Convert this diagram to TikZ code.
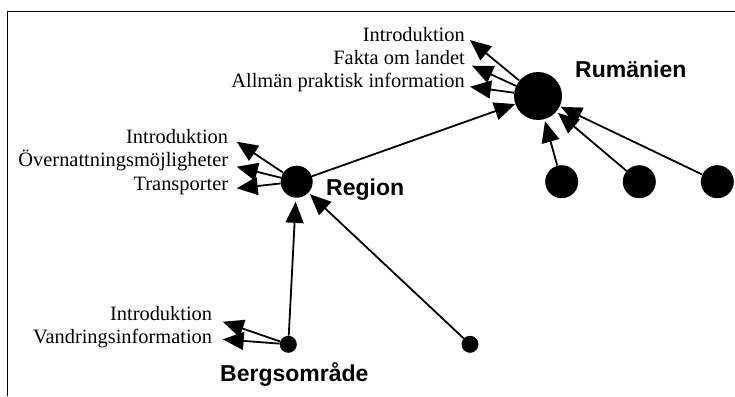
\documentclass[tikz,border=0pt]{standalone}
\usepackage{fontspec}
\setmainfont{Liberation Serif}
\newfontfamily\labfont{Liberation Sans}
\usetikzlibrary{arrows.meta}
\tikzset{
  dot/.style={circle, fill=black, draw=none, inner sep=0pt},
  item/.style={anchor=base east, inner sep=0pt, font=\fontsize{20.4}{24}\selectfont},
  title/.style={anchor=base west, inner sep=0pt, font=\labfont\bfseries\fontsize{23}{27}\selectfont},
  conn/.style={line width=1.8pt, -{Triangle[length=21pt,width=18pt]}},
}
\begin{document}
\begin{tikzpicture}[x=1pt,y=1pt]
\useasboundingbox (0,0) rectangle (735,-396);
% frame
\draw[line width=1.6pt] (7.3,-396) -- (7.3,-11.5) -- (735,-11.5);

% circles
\node[dot, minimum size=48pt] (rum) at (538,-96) {};
\node[dot, minimum size=32pt] (reg) at (296.7,-181.7) {};
\node[dot, minimum size=17pt] (berg) at (288.3,-344.3) {};
\node[dot, minimum size=17pt] (m2) at (470,-344.3) {};
\node[dot, minimum size=33pt] (b1) at (561.7,-181.7) {};
\node[dot, minimum size=33pt] (b2) at (639.3,-181.7) {};
\node[dot, minimum size=33pt] (b3) at (717.3,-181.7) {};

% titles
\node[title] (rumlab) at (575,-77.3) {Rumänien};
\node[title] (reglab) at (326,-195) {Region};
\node[title] (berglab) at (220,-381.7) {Bergsområde};

% Rumänien items
\node[item] (ri1) at (465,-41.7) {Introduktion};
\node[item] (ri2) at (465,-64.3) {Fakta om landet};
\node[item] (ri3) at (465,-87.7) {Allmän praktisk information};
\coordinate (rt1) at (470,-40);
\coordinate (rt2) at (472,-65.7);
\coordinate (rt3) at (470,-86.7);

% Region items
\node[item] (gi1) at (228.3,-143.3) {Introduktion};
\node[item] (gi2) at (228.3,-166.7) {Övernattningsmöjligheter};
\node[item] (gi3) at (228.3,-190) {Transporter};
\coordinate (gt1) at (236.7,-141.7);
\coordinate (gt2) at (236.7,-166.7);
\coordinate (gt3) at (236.7,-188.3);

% Bergsområde items
\node[item] (bi1) at (212.3,-320) {Introduktion};
\node[item] (bi2) at (212.3,-343.3) {Vandringsinformation};
\coordinate (bt1) at (222.7,-321.7);
\coordinate (bt2) at (222.7,-339.3);

% connectors
\draw[conn] (rum) -- (rt1);
\draw[conn] (rum) -- (rt2);
\draw[conn] (rum) -- (rt3);
\draw[conn] (reg) -- (gt1);
\draw[conn] (reg) -- (gt2);
\draw[conn] (reg) -- (gt3);
\draw[conn] (berg) -- (bt1);
\draw[conn] (berg) -- (bt2);

\draw[conn] (reg) -- (rum);
\draw[conn, shorten >=2pt] (b1) -- (rum);
\draw[conn, shorten >=2pt] (b2) -- (rum);
\draw[conn, shorten >=1pt] (b3) -- (rum);
\draw[conn, shorten >=4pt] (berg) -- (reg);
\draw[conn, shorten >=2pt] (m2) -- (reg);
\end{tikzpicture}
\end{document}
